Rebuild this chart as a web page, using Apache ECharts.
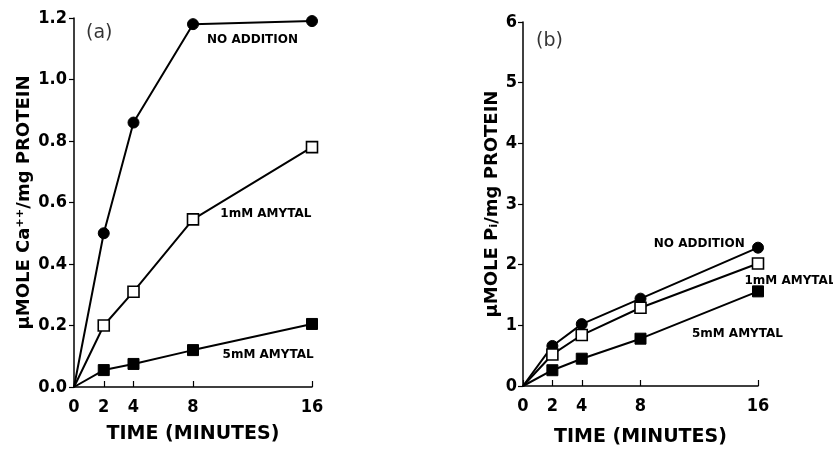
<!DOCTYPE html>
<html><head><meta charset="utf-8">
<script src="https://cdn.jsdelivr.net/npm/echarts@6/dist/echarts.min.js"></script>
<style>html,body{margin:0;padding:0;background:#fff}#c{width:833px;height:452px}</style>
</head><body><div id="c"></div>
<script>
// Data
const times = [0, 2, 4, 8, 16];
const xTickLabels = [0, 2, 4, 8, 16];
const seriesNames = ['NO ADDITION', '1mM AMYTAL', '5mM AMYTAL'];
// Panel (a): μmole Ca++/mg protein
const caNoAddition = [0, 0.50, 0.86, 1.18, 1.19];
const ca1mM = [0, 0.20, 0.31, 0.545, 0.78];
const ca5mM = [0, 0.055, 0.075, 0.12, 0.205];
// Panel (b): μmole Pi/mg protein
const piNoAddition = [0, 0.66, 1.02, 1.44, 2.28];
const pi1mM = [0, 0.52, 0.84, 1.29, 2.02];
const pi5mM = [0, 0.26, 0.45, 0.78, 1.56];

const FONT = '"DejaVu Sans", "Liberation Sans", Arial, sans-serif';
const NARROW = '"Liberation Sans Narrow", "DejaVu Sans Condensed", "Liberation Sans", sans-serif';
const pair = (ys) => times.map((t, i) => (t === 0 ? { value: [t, ys[i]], symbol: 'none' } : [t, ys[i]]));

const styles = [
  { symbol: 'circle', symbolSize: 11, itemStyle: { color: '#000', borderColor: '#000', borderWidth: 1 } },
  { symbol: 'rect', symbolSize: 11, itemStyle: { color: '#fff', borderColor: '#000', borderWidth: 1.6 } },
  { symbol: 'rect', symbolSize: 11, itemStyle: { color: '#000', borderColor: '#000', borderWidth: 1 } }
];

function line(name, ys, idx, styleIdx, labelCoord, offset) {
  const s = styles[styleIdx];
  return {
    type: 'line', name, xAxisIndex: idx, yAxisIndex: idx,
    data: pair(ys), symbol: s.symbol, symbolSize: s.symbolSize,
    itemStyle: s.itemStyle, lineStyle: { color: '#000', width: 2 },
    showAllSymbol: true, animation: false, z: 3 + (styleIdx === 1 ? 1 : 0),
    markPoint: {
      symbol: 'circle', symbolSize: 0, animation: false,
      label: { show: true, formatter: name, color: '#000', fontFamily: FONT, fontWeight: 'bold', fontSize: 12, position: 'inside', offset: offset || [0, 0] },
      data: [{ coord: labelCoord }]
    }
  };
}

const axisLbl = { color: '#000', fontFamily: NARROW, fontSize: 18, fontWeight: 'bold' };
const nameStyle = { color: '#000', fontFamily: FONT, fontSize: 18, fontWeight: 'bold' };

function xAxis(idx, gap) {
  return {
    type: 'value', gridIndex: idx, min: 0, max: 16,
    name: 'TIME (MINUTES)', nameLocation: 'middle', nameGap: gap, nameMoveOverlap: false,
    nameTextStyle: Object.assign({}, nameStyle, { fontSize: 19 }),
    axisLine: { show: true, lineStyle: { color: '#000', width: 1.5 } },
    axisTick: { show: true, inside: true, length: 6, lineStyle: { color: '#000', width: 1.2 }, customValues: xTickLabels },
    axisLabel: Object.assign({ customValues: xTickLabels, margin: 11 }, axisLbl),
    splitLine: { show: false }
  };
}
function yAxis(idx, max, interval, name, gap, fmt, margin) {
  return {
    type: 'value', gridIndex: idx, min: 0, max, interval,
    name, nameLocation: 'middle', nameGap: gap, nameMoveOverlap: false, nameTextStyle: nameStyle,
    axisLine: { show: true, lineStyle: { color: '#000', width: 1.5 } },
    axisTick: { show: true, inside: false, length: 5, lineStyle: { color: '#000', width: 1.2 } },
    axisLabel: Object.assign({ formatter: fmt, margin }, axisLbl),
    splitLine: { show: false }
  };
}

const panelLabel = (text, coord, idx) => ({
  type: 'scatter', xAxisIndex: idx, yAxisIndex: idx, data: [coord], symbolSize: 0, silent: true, animation: false,
  label: { show: true, formatter: text, position: 'inside', color: '#000', fontFamily: FONT, fontSize: 19 }
});

const option = {
  backgroundColor: '#fff',
  animation: false,
  grid: [
    { left: 74, top: 18, width: 238, height: 369 },
    { left: 523, top: 22, width: 235, height: 371 }
  ],
  xAxis: [xAxis(0, 38), xAxis(1, 42)],
  yAxis: [
    yAxis(0, 1.2, 0.2, 'μMOLE Ca⁺⁺/mg PROTEIN', 41, v => v.toFixed(1), 7),
    yAxis(1, 6, 1, 'μMOLE Pᵢ/mg PROTEIN', 22, v => String(v), 6)
  ],
  series: [
    line(seriesNames[0], caNoAddition, 0, 0, [12.0, 1.13]),
    line(seriesNames[1], ca1mM, 0, 1, [12.9, 0.563]),
    line(seriesNames[2], ca5mM, 0, 2, [13.05, 0.104]),
    line(seriesNames[0], piNoAddition, 1, 0, [12.0, 2.35]),
    line(seriesNames[1], pi1mM, 1, 1, [16, 1.73], [32, 0]),
    line(seriesNames[2], pi5mM, 1, 2, [14.6, 0.86]),
    panelLabel('(a)', [1.7, 1.15], 0),
    panelLabel('(b)', [1.8, 5.68], 1)
  ]
};
const chart = echarts.init(document.getElementById('c'), null, { renderer: 'canvas' });
chart.setOption(option);
</script></body></html>
